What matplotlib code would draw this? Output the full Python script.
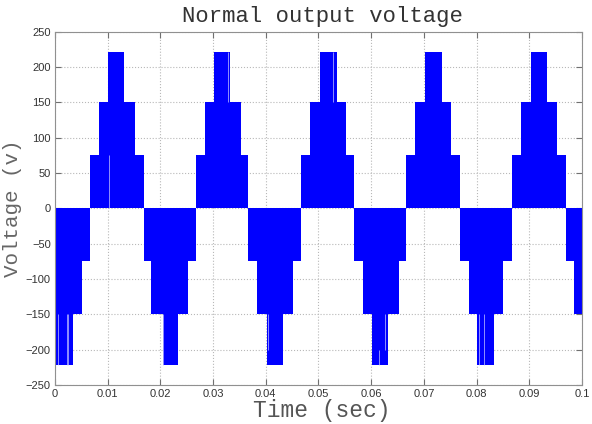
import numpy as np
import matplotlib.pyplot as plt

# envelope of the switched output: segment start times (s) and level (V)
seg_start = [0.0000, 0.0035, 0.0051, 0.0066, 0.0084, 0.0101, 0.0131, 0.0152,
             0.0168, 0.0183, 0.0204, 0.0234, 0.0252, 0.0268, 0.0285, 0.0302,
             0.0332, 0.0352, 0.0367, 0.0384, 0.0403, 0.0433, 0.0452, 0.0467,
             0.0484, 0.0503, 0.0535, 0.0552, 0.0567, 0.0584, 0.0602, 0.0632,
             0.0653, 0.0667, 0.0683, 0.0702, 0.0735, 0.0751, 0.0768, 0.0786,
             0.0800, 0.0833, 0.0851, 0.0868, 0.0884, 0.0903, 0.0934, 0.0952,
             0.0969, 0.0985]
seg_level = [-222, -150, -75, 75, 150, 222, 150, 75,
             -75, -150, -222, -150, -75, 75, 150, 222,
             150, 75, -75, -150, -222, -150, -75, 75,
             150, 222, 150, 75, -75, -150, -222, -150,
             -75, 75, 150, 222, 150, 75, -75, -150,
             -222, -150, -75, 75, 150, 222, 150, 75,
             -75, -150]
t_end = 0.1

# thin white gaps left by the switching
gap_t = [0.0006, 0.0022, 0.0025, 0.0103, 0.0205, 0.0328, 0.0404,
         0.0527, 0.0615, 0.0626, 0.0805, 0.0814]
gap_lo = [-222, -222, -222, 0, -222, 150, -200, 150, -222, -200, -222, -222]
gap_hi = [-150, -150, -150, 75, -150, 222, -150, 222, -200, -150, -150, -150]

t = np.array(seg_start + [t_end])
v = np.array(seg_level + [seg_level[-1]])

fig = plt.figure(figsize=(5.92, 4.24), dpi=100)
ax = fig.add_axes([0.093, 0.092, 0.890, 0.833])

ax.fill_between(t, 0, v, step='post', color='#0000ff', lw=0, zorder=2)
ax.vlines(gap_t, gap_lo, gap_hi, color='#c8c8ff', lw=0.5, zorder=3)

ax.set_xlim(0, 0.1)
ax.set_ylim(-250, 250)
ax.set_xticks(np.arange(0, 0.101, 0.01))
ax.set_xticklabels(['0', '0.01', '0.02', '0.03', '0.04', '0.05', '0.06',
                    '0.07', '0.08', '0.09', '0.1'])
ax.set_yticks(np.arange(-250, 251, 50))

ax.grid(True, linestyle=':', color='#b8b8b8', lw=0.8, zorder=1)
ax.set_axisbelow(True)
ax.tick_params(direction='in', top=True, right=True, length=4,
               color='#707070', labelsize=8, labelcolor='#333333', pad=3)
for tl in ax.get_xticklabels() + ax.get_yticklabels():
    tl.set_family('Liberation Sans')
for s in ax.spines.values():
    s.set_color('#909090')

ax.set_title('Normal output voltage', family='Liberation Mono', fontsize=16,
             color='#333333', pad=7, x=0.507)
ax.set_xlabel('Time (sec)', family='Liberation Mono', fontsize=16.5,
              color='#555555', labelpad=0, x=0.507)
ax.set_ylabel('Voltage (v)', family='Liberation Mono', fontsize=15,
              color='#666666', labelpad=3)

fig.savefig('out.png', dpi=100)
plt.close()
